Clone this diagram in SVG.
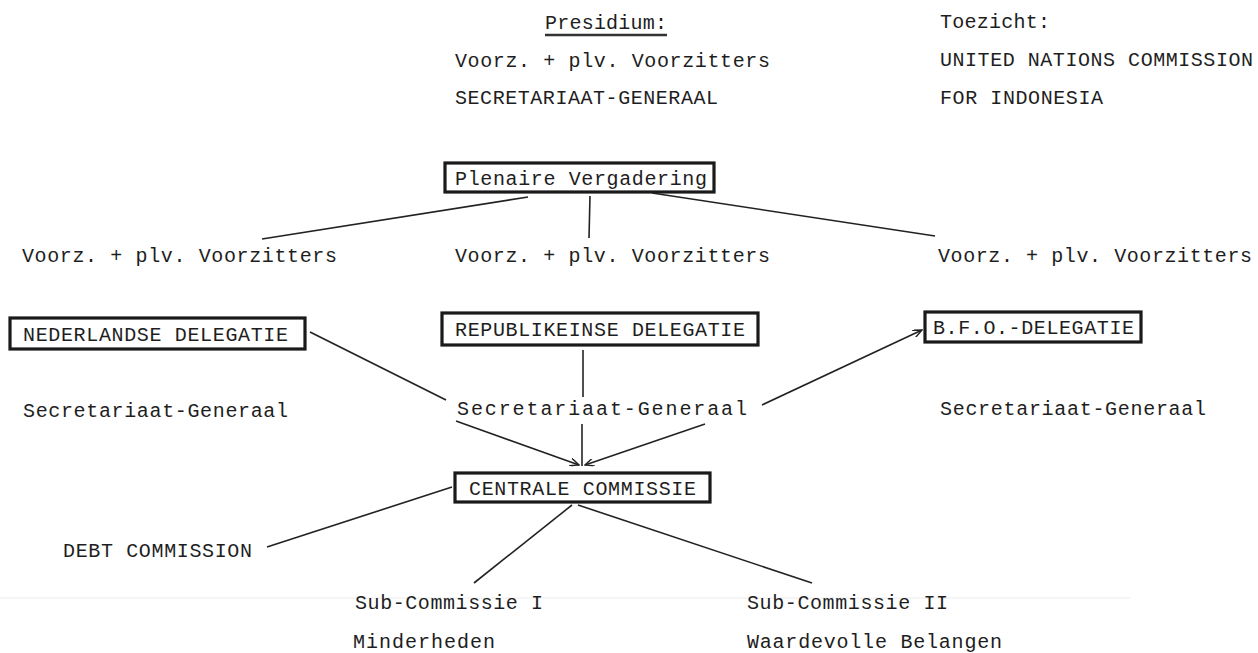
<svg xmlns="http://www.w3.org/2000/svg" width="1258" height="653" viewBox="0 0 1258 653">
<defs>
<style>
text{font-family:"Liberation Mono","DejaVu Sans Mono",monospace;font-size:20px;fill:#1e1e1e}
.box{fill:none;stroke:#1a1a1a;stroke-width:3.2}
.ln{stroke:#222;stroke-width:1.6;fill:none}
</style>
<marker id="ah" markerWidth="10" markerHeight="8" refX="9" refY="4" orient="auto" markerUnits="userSpaceOnUse">
<path d="M0,0 L9,4 L0,8" fill="none" stroke="#222" stroke-width="1.4"/>
</marker>
</defs>
<rect width="1258" height="653" fill="#fff"/>
<line x1="0" y1="598" x2="1130" y2="598" stroke="#ececec" stroke-width="1"/>
<g id="presidium">
<text x="545" y="29" textLength="122" lengthAdjust="spacing">Presidium:</text>
<line x1="545" y1="35" x2="667" y2="35" stroke="#333" stroke-width="2.5"/>
<text x="455" y="67" textLength="315" lengthAdjust="spacing">Voorz. + plv. Voorzitters</text>
<text x="455" y="104" textLength="263" lengthAdjust="spacing">SECRETARIAAT-GENERAAL</text>
</g>
<g id="toezicht">
<text x="940" y="28" textLength="110" lengthAdjust="spacing">Toezicht:</text>
<text x="940" y="66" textLength="313" lengthAdjust="spacing">UNITED NATIONS COMMISSION</text>
<text x="940" y="104" textLength="163" lengthAdjust="spacing">FOR INDONESIA</text>
</g>
<g id="plenaire">
<rect class="box" x="445" y="163" width="269" height="29"/>
<text x="455" y="185" textLength="252" lengthAdjust="spacing">Plenaire Vergadering</text>
</g>
<g id="voorz-left"><text x="22" y="262" textLength="315" lengthAdjust="spacing">Voorz. + plv. Voorzitters</text></g>
<g id="voorz-mid"><text x="455" y="262" textLength="315" lengthAdjust="spacing">Voorz. + plv. Voorzitters</text></g>
<g id="voorz-right"><text x="938" y="262" textLength="314" lengthAdjust="spacing">Voorz. + plv. Voorzitters</text></g>
<g id="ned">
<rect class="box" x="10" y="318" width="295" height="31"/>
<text x="23" y="341" textLength="265" lengthAdjust="spacing">NEDERLANDSE DELEGATIE</text>
</g>
<g id="rep">
<rect class="box" x="442" y="313" width="316" height="32"/>
<text x="455" y="336" textLength="290" lengthAdjust="spacing">REPUBLIKEINSE DELEGATIE</text>
</g>
<g id="bfo">
<rect class="box" x="925" y="312" width="216" height="30"/>
<text x="933" y="334" textLength="201" lengthAdjust="spacing">B.F.O.-DELEGATIE</text>
</g>
<g id="sec-left"><text x="23" y="417" textLength="265" lengthAdjust="spacing">Secretariaat-Generaal</text></g>
<g id="sec-mid"><text x="457" y="415" textLength="290" lengthAdjust="spacing">Secretariaat-Generaal</text></g>
<g id="sec-right"><text x="940" y="415" textLength="266" lengthAdjust="spacing">Secretariaat-Generaal</text></g>
<g id="centrale">
<rect class="box" x="455" y="473" width="255" height="29"/>
<text x="469" y="495" textLength="227" lengthAdjust="spacing">CENTRALE COMMISSIE</text>
</g>
<g id="debt"><text x="63" y="557" textLength="189" lengthAdjust="spacing">DEBT COMMISSION</text></g>
<g id="sub1">
<text x="355" y="609" textLength="188" lengthAdjust="spacing">Sub-Commissie I</text>
<text x="353" y="648" textLength="142" lengthAdjust="spacing">Minderheden</text>
</g>
<g id="sub2">
<text x="747" y="609" textLength="201" lengthAdjust="spacing">Sub-Commissie II</text>
<text x="747" y="648" textLength="255" lengthAdjust="spacing">Waardevolle Belangen</text>
</g>
<g id="connectors">
<line class="ln" x1="528" y1="197" x2="262" y2="239"/>
<line class="ln" x1="590" y1="196" x2="589" y2="238"/>
<line class="ln" x1="652" y1="193" x2="935" y2="236"/>
<line class="ln" x1="310" y1="332" x2="446" y2="400"/>
<line class="ln" x1="583" y1="350" x2="583" y2="397"/>
<line class="ln" x1="762" y1="405" x2="922" y2="330" marker-end="url(#ah)"/>
<line class="ln" x1="456" y1="421" x2="579" y2="465" marker-end="url(#ah)"/>
<line class="ln" x1="582" y1="424" x2="582" y2="466"/>
<line class="ln" x1="705" y1="424" x2="585" y2="465" marker-end="url(#ah)"/>
<line class="ln" x1="452" y1="487" x2="267" y2="547"/>
<line class="ln" x1="572" y1="505" x2="474" y2="583"/>
<line class="ln" x1="578" y1="505" x2="812" y2="583"/>
</g>
</svg>
